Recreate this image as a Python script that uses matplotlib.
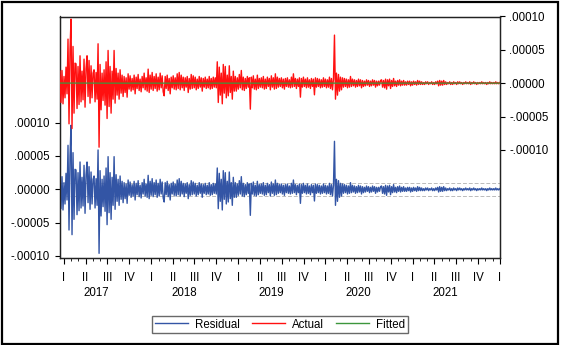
import numpy as np
import pandas as pd
import matplotlib
matplotlib.use("Agg")
import matplotlib.pyplot as plt
import matplotlib.dates as mdates
import matplotlib.transforms as mtransforms
from matplotlib.patches import Rectangle
from matplotlib.ticker import FixedLocator, FuncFormatter
from matplotlib.lines import Line2D

plt.rcParams['font.family'] = ['Liberation Sans', 'DejaVu Sans']

# ---------------- data (units of 1e-5) ----------------
start_date = "2016-12-15"
end_date = "2021-12-31"

residual_e5 = [
    1.8, -2.9, 1.9, -3.1, 1.0, -2.2, 2.4, -1.6,
    6.6, -6.1, 5.0, 9.6, -6.8, 5.5, -4.5, 3.0,
    2.9, -3.8, 2.5, -3.2, 4.1, -2.8, 1.8, -2.5,
    3.6, -3.6, 2.2, 4.1, -2.0, 3.4, -3.0, 2.6, -2.2, 1.5,
    2.0, -2.8, 1.6, -2.4, 5.9, -9.6, 2.8, -4.0,
    1.5, -2.6, 2.0, -3.3, 3.2, -5.3, 4.9, -3.5, 2.5, -4.5, 1.8, -2.4,
    4.9, -3.0, 2.2, -1.8, 1.5, -2.4, 2.0, -1.5, 1.2, -2.0,
    1.0, -1.4, 0.8, -2.1, 1.4, -0.9, 1.1, -1.2, 0.7, -1.0, 1.2, -1.6, 0.9, -0.8, 1.3, -1.1,
    0.6, -1.3, 1.0, -0.7, 1.5, -1.0, 0.8, -1.2, 2.1, -1.4, 1.2, -0.9, 1.6, -1.1, 1.0, -0.8,
    1.4, -1.2, 0.9, -1.0, 1.5, -0.7, 1.1, -1.3,
    -1.9, 1.0, -0.8, 1.2, -1.1, 0.7, -1.6, 0.9, -0.7, 1.1, -0.9, 0.8, -1.0, 1.4, -0.8, 1.6,
    -1.0, 1.2, -0.7, 0.9, -1.1, 0.8, -0.6, 1.0, -1.4, 0.7, -0.9, 1.3, -0.8, 1.1, -0.7, 0.9,
    -1.0, 0.6, -0.8, 1.0, -0.6, 0.8, -1.2, 0.7, -0.6, 0.9, -0.8, 0.6, -0.7, 1.0, -0.9, 0.7,
    -0.8, 0.9, -0.6, 0.8, -0.7,
    3.2, -2.9, 2.4, -1.8, 1.5, -3.1, 2.8, -1.5, 2.5, -2.2, 1.2, -1.9, 2.6, -1.4, 1.0, -2.4, 1.8, -1.2,
    1.0, -1.2, 0.8, -0.9, 1.3, -0.7, 1.9, -1.0, 0.9, -1.1, 0.7, -0.8, 1.0, -0.6, 0.8, -3.9,
    0.9, -0.7, 1.1, -0.9, 0.6, -1.0, 1.2, -0.8, 0.7, -0.6,
    0.8, -0.7, 1.0, -0.9, 0.6, -0.8, 0.9, -0.5, 0.7, -1.0, 1.1, -0.6, 0.8, -0.9, 1.4, -0.8,
    0.9, -0.6, 0.7, -0.5, 0.8, -0.7, 0.6, -0.9, 0.7, -0.5, 0.8, -0.6, 0.5, -0.7, 0.9, -0.6,
    1.4, -0.5, 0.7, -0.8, 0.6, -0.5, 0.8, -2.1, 0.7, -0.6, 0.9, -0.5, 0.6, -0.7, 0.8, -0.6,
    0.5, -0.8, 0.7, -0.5, 0.6, -1.75, 0.8, -0.6, 0.7, -0.5, 0.6, -0.7, 0.5, -0.6, 0.8, -0.5,
    0.6, -0.7, 0.5, -0.6, 0.9, -0.8, 0.7, -1.0, 0.6,
    7.2, -2.4, 1.5, -1.8, 1.3, -1.2, 0.9,
    -1.0, 0.8, -0.6, 0.7, -0.5, 0.6, -0.7, 0.5, -0.6, 1.0, -0.5, 0.6, -0.4, 0.5, -0.6, 0.4,
    -0.5, 0.6, -0.4, 0.5, -0.7, 0.4, -0.5, 0.3, -0.4, 0.5, -0.3, 0.4, -0.5, 0.3, -0.4, 0.5,
    -0.3, 0.4, -0.6, 0.3, -0.4, 0.3, -0.3, 0.4,
    0.5, -0.6, 0.4, -0.7, 0.6, -0.9, 0.5, -0.4, 0.6, -0.8, 0.4, -0.5, 0.7, -0.4, 0.3, -0.5,
    0.4, -0.3, 0.5, -0.4, 0.3, -0.3, 0.4, -0.3, 0.2, -0.3, 0.3, -0.2, 0.3, -0.4, 0.2, -0.3,
    0.3, -0.2, 0.2, -0.3, 0.4, -0.2, 0.3, -0.2,
    0.2, -0.2, 0.1, -0.2, 0.2, -0.1, 0.2, -0.2, 0.1, -0.1, 0.2, -0.2, 0.1, -0.2, 0.2, -0.1,
    0.3, -0.4, 0.4, -0.3, 0.3, -0.3, 0.4, -0.2, 0.2, -0.2, 0.1, -0.1, 0.2, -0.2, 0.1, -0.2,
    0.2, -0.1, 0.1, -0.2, 0.2, -0.1, 0.2, -0.1, 0.1, -0.2, 0.1, -0.1, 0.2, -0.1, 0.1, -0.1,
    0.2, -0.2, 0.1, -0.1, 0.2, -0.1, 0.1, -0.2, 0.1, -0.1, 0.1, -0.1, 0.2, -0.1, 0.1, -0.1,
    0.1, -0.2, 0.1, -0.1, 0.2, -0.1, 0.1, -0.1, 0.1, -0.1, 0.2, -0.1, 0.1, -0.1, 0.1,
]
# fitted values (essentially zero throughout), quarterly readings
fitted_quarter_dates = pd.date_range("2016-12-15", "2021-12-31", periods=21)
fitted_e5 = [0.02, 0.02, 0.01, 0.01, 0.01, 0.01, 0.01, 0.01, 0.01, 0.01, 0.01,
             0.01, 0.01, 0.01, 0.01, 0.01, 0.01, 0.01, 0.01, 0.01, 0.01]
resid_std_e5 = 1.0  # +/- 1 S.E. band (dashed lines)

year_labels = ["2017", "2018", "2019", "2020", "2021"]
quarter_labels = ["I", "II", "III", "IV"]

scale = 1e-5
residual = np.array(residual_e5) * scale
dates = pd.date_range(start_date, end_date, periods=len(residual))
actual = residual + np.mean(fitted_e5) * scale
fitted = np.array(fitted_e5) * scale

# ---------------- figure ----------------
W, H = 563, 345
fig = plt.figure(figsize=(W / 100, H / 100), dpi=100)
fig.patch.set_facecolor("white")

x0, x1 = 60, 500
ytop, ybot = 16.5, 258
ax = fig.add_axes([x0 / W, 1 - ybot / H, (x1 - x0) / W, (ybot - ytop) / H])
ax2 = ax.twinx()

blue = "#3355a5"
red = "#ff1010"
green = "#3c963c"

fs = 8.3
# residual on left axis
ax.plot(dates, residual, color=blue, lw=1.0, zorder=3)
ax.axhline(resid_std_e5 * scale, color="#bbbbbb", lw=0.7, ls=(0, (4, 2)), zorder=1)
ax.axhline(-resid_std_e5 * scale, color="#bbbbbb", lw=0.7, ls=(0, (4, 2)), zorder=1)
ax.set_ylim(-1.030e-4, 2.592e-4)
ax.set_yticks(np.array([-10, -5, 0, 5, 10]) * scale)

# actual/fitted on right axis
ax2.plot(dates, actual, color=red, lw=1.0, zorder=3)
ax2.plot(fitted_quarter_dates, fitted, color=green, lw=0.9, zorder=4)
ax2.set_ylim(-2.62e-4, 1.0e-4)
ax2.set_yticks(np.array([-10, -5, 0, 5, 10]) * scale)


def fmt(v, pos):
    s = "%.5f" % v
    if s.startswith("-0"):
        s = "-" + s[2:]
    elif s.startswith("0"):
        s = s[1:]
    if s == "-.00000":
        s = ".00000"
    return s


for a in (ax, ax2):
    a.yaxis.set_major_formatter(FuncFormatter(fmt))
    a.tick_params(axis="y", labelsize=fs, length=3.5, width=0.8, direction="out", colors="black")
ax.tick_params(axis="y", pad=4)
ax2.tick_params(axis="y", pad=3)

ax.set_xlim(pd.Timestamp(start_date), pd.Timestamp("2022-01-01"))

# quarter ticks
qdates = pd.date_range("2017-01-01", "2022-01-01", freq="QS")
mdates_ = pd.date_range("2016-12-01", "2022-01-01", freq="MS")
mdates_ = [d for d in mdates_ if d >= pd.Timestamp(start_date)]
ax.xaxis.set_major_locator(FixedLocator(mdates.date2num(qdates)))
ax.xaxis.set_minor_locator(FixedLocator(mdates.date2num(mdates_)))
ax.set_xticklabels([quarter_labels[(d.month - 1) // 3] for d in qdates])
ax.tick_params(axis="x", which="major", length=4, width=0.8, labelsize=fs, pad=6)
ax.tick_params(axis="x", which="minor", length=2.5, width=0.6)

# year labels centred between quarter I and IV
trans = mtransforms.blended_transform_factory(ax.transData, fig.transFigure)
for yl in year_labels:
    c = pd.Timestamp(yl + "-01-01") + (pd.Timestamp(yl + "-10-01") - pd.Timestamp(yl + "-01-01")) / 2
    ax.text(mdates.date2num(c), 1 - 293 / H, yl, transform=trans, ha="center", va="center",
            fontsize=fs)

for a in (ax, ax2):
    for sp in a.spines.values():
        sp.set_linewidth(0.9)
        sp.set_color("#222222")

# legend
handles = [Line2D([], [], color=blue, lw=1), Line2D([], [], color=red, lw=1),
           Line2D([], [], color=green, lw=1)]
leg = fig.legend(handles, ["Residual", "Actual", "Fitted"], loc="center",
                 bbox_to_anchor=(280 / W, 1 - 324.5 / H), ncol=3, fontsize=fs,
                 frameon=True, fancybox=False, handlelength=2.9, columnspacing=1.0,
                 handletextpad=0.6, borderpad=0.25)
leg.get_frame().set_edgecolor("#444444")
leg.get_frame().set_linewidth(1.0)

# outer frame
fig.patches.append(Rectangle((1.5 / W, 1.5 / H), (558 - 1.5) / W, (343 - 1.5) / H,
                             transform=fig.transFigure, fill=False, edgecolor="black",
                             lw=1.6))

fig.savefig("out.png", dpi=100)
